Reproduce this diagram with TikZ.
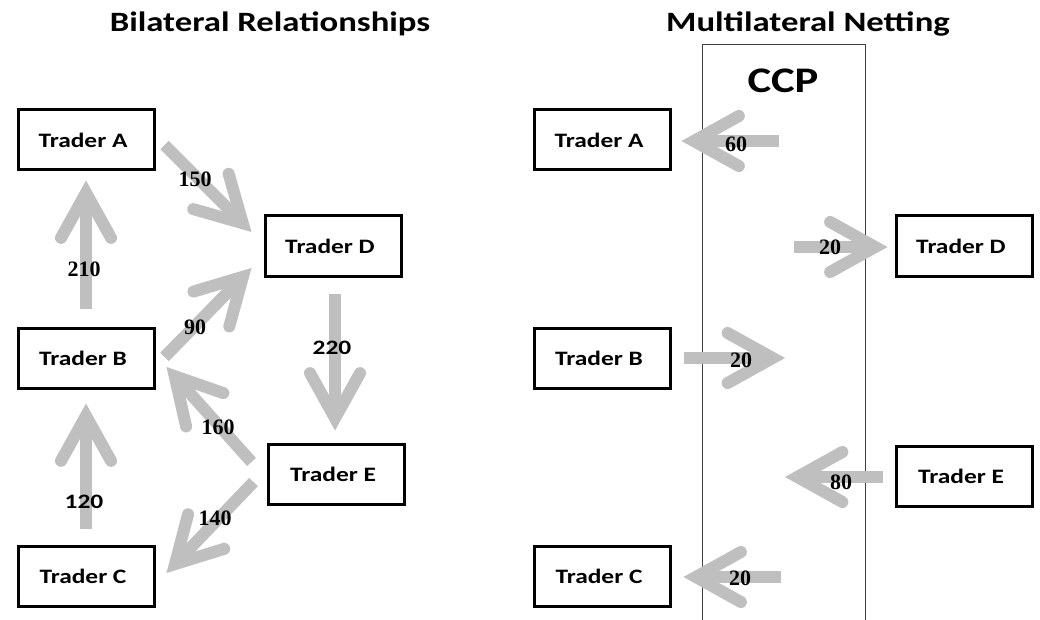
\documentclass[tikz,border=0pt]{standalone}
\usepackage{fontspec}
\setmainfont{Carlito}[FakeStretch=1.24]
\newfontfamily\numfont{Liberation Serif}
\usetikzlibrary{arrows.meta}
\definecolor{flowgray}{RGB}{191,191,191}

\begin{document}
\begin{tikzpicture}[x=1pt, y=-1pt,
    trader/.style={draw=black, line width=3pt, minimum width=136pt, minimum height=60pt,
        font=\fontsize{20.5}{24}\selectfont\bfseries},
    flow/.style={draw=flowgray, line width=12pt,
        -{Straight Barb[length=45pt, width=50pt, line cap=round, line join=miter]}},
    amount/.style={font=\fontsize{22}{26}\selectfont\numfont\bfseries},
    amountsans/.style={font=\fontsize{20.5}{24}\selectfont\bfseries},
    heading/.style={anchor=base, font=\fontsize{28}{32}\selectfont\bfseries},
    ccpcol/.style={draw=black!75, line width=0.8pt, anchor=north, minimum width=163pt, minimum height=640pt}]
    \useasboundingbox (0,0) rectangle (1040,620);

    \node[heading] (bilat) at (270,32) {Bilateral Relationships};
    \node[heading] (multi) at (808,32) {Multilateral Netting};

    % bilateral side
    \node[trader] (A) at (86,140) {Trader A\hspace*{6pt}};
    \node[trader] (D) at (333,246) {Trader D\hspace*{6pt}};
    \node[trader] (B) at (86,358) {Trader B\hspace*{6pt}};
    \node[trader] (E) at (336,474) {Trader E\hspace*{6pt}};
    \node[trader] (C) at (86,576) {Trader C\hspace*{6pt}};

    \draw[flow] ([shift={(9,5)}]A.east) -- ([shift={(-12,-14)}]D.west);
    \draw[flow] ([shift={(0,-18)}]B.north) -- ([shift={(0,9)}]A.south);
    \draw[flow] ([shift={(9,-1)}]B.east) -- ([shift={(-12,22)}]D.west);
    \draw[flow] ([shift={(2,16)}]D.south) -- ([shift={(-1,-12)}]E.north);
    \draw[flow] ([shift={(-15,-12)}]E.west) -- ([shift={(11,9)}]B.east);
    \draw[flow] ([shift={(-13,8)}]E.west) -- ([shift={(11,-3)}]C.east);
    \draw[flow] ([shift={(0,-16)}]C.north) -- ([shift={(0,14)}]B.south);

    \node[amount] (l150) at (195,179) {150};
    \node[amount] (l210) at (84,269) {210};
    \node[amount] (l90) at (195,327) {90};
    \node[amountsans] (l220) at (332,348) {220};
    \node[amount] (l160) at (218,427) {160};
    \node[amount] (l140) at (215,518) {140};
    \node[amountsans] (l120) at (84,502) {120};

    % netting side
    \node[ccpcol] (ccp) at (783.5,44) {};
    \node[anchor=base, font=\fontsize{36}{40}\selectfont\bfseries] (ccplabel) at (783,93) {CCP};

    \node[trader] (rA) at (602,140) {Trader A\hspace*{6pt}};
    \node[trader] (rD) at (964,246) {Trader D\hspace*{6pt}};
    \node[trader] (rB) at (602,358) {Trader B\hspace*{6pt}};
    \node[trader] (rE) at (964,476) {Trader E\hspace*{6pt}};
    \node[trader] (rC) at (602,576) {Trader C\hspace*{6pt}};

    \coordinate (ccpA) at (779,141);
    \coordinate (ccpD) at (794,247);
    \coordinate (ccpB) at (785,358);
    \coordinate (ccpE) at (785,477);
    \coordinate (ccpC) at (781,577);

    \draw[flow] (ccpA) -- ([shift={(10,1)}]rA.east);
    \draw[flow] (ccpD) -- ([shift={(-7,1)}]rD.west);
    \draw[flow] ([shift={(12,0)}]rB.east) -- (ccpB);
    \draw[flow] ([shift={(-12,1)}]rE.west) -- (ccpE);
    \draw[flow] (ccpC) -- ([shift={(12,1)}]rC.east);

    \node[amount] (r60) at (736,144) {60};
    \node[amount] (r20d) at (830,247) {20};
    \node[amount] (r20b) at (741,360) {20};
    \node[amount] (r80) at (841,482) {80};
    \node[amount] (r20c) at (740,578) {20};
\end{tikzpicture}
\end{document}
